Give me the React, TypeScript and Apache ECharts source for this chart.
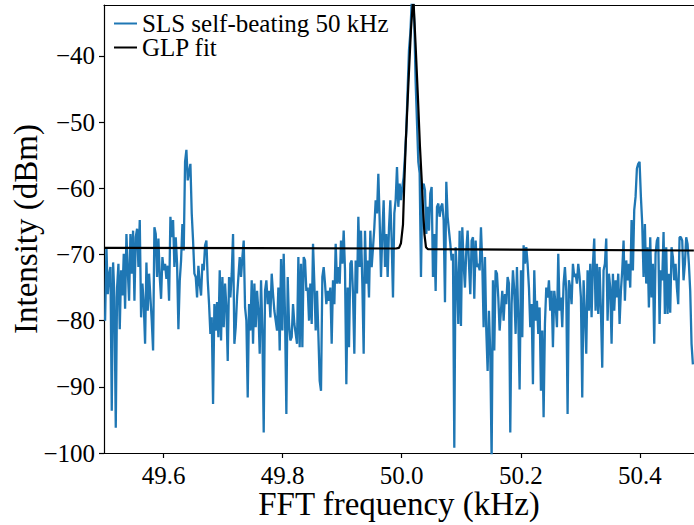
import React, { useEffect, useRef } from "react";
import * as echarts from "echarts";

// FFT bin grid (kHz)
const FREQ_START = 49.50185;
const FREQ_STEP = 0.0022387;

// SLS self-beating spectrum (dBm), one value per FFT bin
const slsIntensity: number[] = [
  -80, -68.9, -76, -73, -71.9, -93.6, -71.2, -76.5, -96.2, -75, -71.4, -81.3, -72.4, -76.2, -69.9, -78.2, -66.9, -72.4, -77, -66.9,
  -72.9, -66.4, -77, -67.4, -66.1, -71.9, -64.8, -79.5, -74.4, -77.5, -83.5, -71.2, -78.5, -72.9, -76.5, -80, -84.5, -65.9, -66.9, -73.4,
  -67.6, -73.4, -76.7, -70.4, -72.4, -71.4, -73.7, -71.7, -77, -64.3, -67.4, -64.8, -71.9, -67.4, -71.4, -81.3, -74, -70.9, -65.4, -69.4,
  -56, -54.2, -58.8, -57.5, -56.3, -63.8, -67.9, -72.9, -73.4, -76.5, -71.7, -74.4, -76.2, -71.4, -72.4, -68.6, -67.9, -73.9, -77.5, -82,
  -79.5, -92.6, -77.5, -81.5, -77.2, -82.5, -72.4, -83, -73.4, -81, -74.4, -78, -86.1, -73.4, -76.5, -72.9, -66.9, -83.5, -81, -76.5,
  -73.4, -70.4, -73.4, -70.4, -67.9, -78, -80, -91.6, -77.5, -81.5, -73.9, -83.5, -74.4, -81, -75.5, -78.5, -85, -73.9, -81.5, -96.9,
  -75.5, -73.9, -77.5, -75.5, -79.5, -72.9, -76, -78.5, -80, -81.5, -75, -84.5, -70.7, -81.5, -69.9, -79.5, -94.1, -73.4, -80.5, -83,
  -82.5, -77.5, -80.5, -82, -83.5, -70.4, -84, -71.4, -84, -70.4, -70.9, -75.5, -75, -80, -74.4, -80.5, -68.4, -74.4, -81.5, -75.5,
  -82, -89.1, -90.6, -73.4, -71.9, -74.4, -77.5, -75.5, -77, -75, -83.5, -73.9, -77.5, -68.4, -74.4, -71.9, -74.4, -67.9, -71.4, -66.4,
  -72.4, -89.6, -75, -84, -71.4, -70.9, -76, -85, -70.9, -75.9, -64.3, -71.9, -66.4, -74.4, -85, -66.4, -74.4, -70.9, -76.5, -66.4,
  -71.9, -69, -65.9, -61.8, -63.8, -57.8, -64.8, -73.4, -66.9, -61.8, -71.9, -66.9, -73.4, -66, -61.8, -67.9, -76.5, -63.8, -61.8, -56.8,
  -62.8, -59.3, -61.8, -59.8, -58.3, -55, -51.2, -45, -39.1, -36.6, -32, -30.5, -35, -44, -50, -56, -57.7, -73.4, -60, -59.3,
  -60.3, -66.9, -62.8, -66.4, -60.8, -59.8, -73.4, -66.9, -75.5, -62.8, -62.3, -64.3, -62.8, -62.3, -64.8, -77.2, -59, -64.3, -66.4, -68.4,
  -70.9, -69.9, -99.2, -68.9, -73.4, -80.5, -66.4, -80.8, -65.9, -71.4, -75, -69.4, -66.4, -71.4, -76, -67.9, -67.4, -76.7, -67.9, -71.9,
  -71.4, -72.4, -65.9, -71.4, -81, -70.4, -81.5, -87.6, -78.5, -85, -101, -73.9, -84.5, -72.4, -72.9, -76.5, -81.5, -78.5, -75.5, -80,
  -76, -77.5, -73.4, -74.4, -96.9, -77.5, -72.4, -75.5, -82, -71.9, -79.5, -90.4, -72.4, -82.5, -68.6, -71.4, -68.9, -71.4, -75, -81,
  -77.5, -89.6, -72.4, -80, -77, -82, -78, -90.6, -81.5, -94.6, -80.5, -75, -76.5, -73.9, -78.5, -75.5, -84, -75.5, -77.5, -81,
  -69.9, -78.5, -76.5, -81, -74.4, -71.9, -75.5, -94.1, -73.9, -75, -77.5, -71.4, -73.4, -72.9, -74.4, -71.4, -73.4, -76.5, -91.6, -73.9,
  -79, -85, -72.4, -78.5, -71.4, -79.5, -71.4, -67.6, -78.5, -71.4, -79, -71.9, -78.5, -87.1, -72.4, -71.4, -67.6, -80, -72.9, -75,
  -83.5, -72.9, -78.5, -73.9, -76.5, -72.9, -80.5, -75.5, -72.4, -67.9, -77, -70.9, -73.9, -71.4, -75, -64.8, -72.4, -63.3, -61.3, -57,
  -56.3, -56, -61.3, -65.4, -73.4, -65.4, -74.4, -68.9, -78, -67.4, -76.5, -71.4, -83.5, -69.9, -67.9, -67.4, -80.5, -72.4, -73.9, -66.6,
  -79, -68.9, -79, -72.9, -78.8, -68.9, -70.4, -73.9, -71.4, -75, -77.5, -67.4, -67.4, -67.9, -73.9, -71.4, -67.4, -68.4, -71.4, -75.5,
  -83.5, -86.6,
];

// GLP fit (kHz, dBm)
const fitFreq: number[] = [49.5, 49.9904, 49.9955, 49.9988, 50.0022, 50.0041, 50.0069, 50.0111, 50.0156, 50.0195, 50.0232, 50.0274, 50.0307, 50.0335, 50.0363, 50.0383, 50.0408, 50.0442, 50.4908];
const fitIntensity: number[] = [-69.0, -69.1, -69.0, -68.3, -65.5, -60.0, -53.0, -44.6, -36.0, -31.0, -38.0, -46.5, -53.7, -58.5, -63.8, -67.0, -68.9, -69.2, -69.4];

const seriesNames = ["SLS self-beating 50 kHz", "GLP fit"];
const xTicks = [49.6, 49.8, 50.0, 50.2, 50.4];
const yTicks = [-100, -90, -80, -70, -60, -50, -40];

const X_MIN = 49.5;
const X_MAX = 50.491;
const Y_MIN = -100;
const Y_MAX = -32.3;

const FONT = "Liberation Serif";
const TICK_FONT = "25px \"Liberation Serif\", serif";

export default function App() {
  const ref = useRef<HTMLDivElement>(null);
  useEffect(() => {
    document.body.style.margin = "0";
    if (!ref.current) return;
    const chart = echarts.init(ref.current, undefined, { renderer: "svg" });
    const slsData = slsIntensity.map((v, i) => [FREQ_START + i * FREQ_STEP, v]);
    const fitData = fitFreq.map((f, i) => [f, fitIntensity[i]]);
    const legendBase = {
      orient: "vertical",
      left: 114,
      padding: 0,
      itemWidth: 23,
      itemHeight: 2,
      icon: "rect",
      textStyle: { fontFamily: FONT, fontSize: 25, color: "#000", lineHeight: 22 },
    };
    chart.setOption({
      animation: false,
      backgroundColor: "#ffffff",
      textStyle: { fontFamily: FONT },
      grid: { left: 104, right: 0, top: 5, bottom: 72, containLabel: false, outerBoundsMode: "none" },
      legend: [
        { ...legendBase, top: 11, data: [seriesNames[0]] },
        { ...legendBase, top: 35, data: [seriesNames[1]] },
      ],
      xAxis: [
        {
          type: "value",
          min: X_MIN,
          max: X_MAX,
          position: "bottom",
          name: "FFT frequency (kHz)",
          nameLocation: "middle",
          nameGap: 38,
          nameMoveOverlap: false,
          nameTextStyle: { fontFamily: FONT, fontSize: 33, color: "#000", lineHeight: 26 },
          axisLine: { show: true, onZero: false, lineStyle: { color: "#000", width: 1.2 } },
          axisTick: { show: true, inside: false, length: 5, customValues: xTicks, lineStyle: { color: "#000", width: 1.2 } },
          axisLabel: { show: false },
          splitLine: { show: false },
        },
        {
          type: "value",
          min: X_MIN,
          max: X_MAX,
          position: "top",
          axisLine: { show: true, onZero: false, lineStyle: { color: "#000", width: 1.2 } },
          axisTick: { show: false },
          axisLabel: { show: false },
          splitLine: { show: false },
        },
      ],
      yAxis: {
        type: "value",
        min: Y_MIN,
        max: Y_MAX,
        name: "Intensity (dBm)",
        nameLocation: "middle",
        nameRotate: 90,
        nameGap: 62,
        nameMoveOverlap: false,
        nameTextStyle: { fontFamily: FONT, fontSize: 33, color: "#000" },
        axisLine: { show: true, onZero: false, lineStyle: { color: "#000", width: 1.2 } },
        axisTick: { show: true, inside: false, length: 5, customValues: yTicks, lineStyle: { color: "#000", width: 1.2 } },
        axisLabel: { show: false },
        splitLine: { show: false },
      },
      series: [
        {
          name: seriesNames[0],
          type: "line",
          data: slsData,
          showSymbol: false,
          symbol: "none",
          clip: true,
          color: "#1f77b4",
          lineStyle: { color: "#1f77b4", width: 2.3 },
        },
        {
          name: seriesNames[1],
          type: "line",
          data: fitData,
          showSymbol: false,
          symbol: "none",
          clip: true,
          color: "#000",
          lineStyle: { color: "#000", width: 2.2 },
        },
      ],
    });

    // Tick labels placed through the axes' own scales
    const axisBottom = chart.convertToPixel({ yAxisIndex: 0 }, Y_MIN) as number;
    const axisLeft = chart.convertToPixel({ xAxisIndex: 0 }, X_MIN) as number;
    const labels: any[] = [];
    xTicks.forEach((t) => {
      labels.push({
        type: "text",
        x: chart.convertToPixel({ xAxisIndex: 0 }, t) as number,
        y: axisBottom + 22,
        style: { text: t.toFixed(1), font: TICK_FONT, fill: "#000", lineHeight: 20, align: "center", verticalAlign: "middle" },
      });
    });
    yTicks.forEach((t) => {
      labels.push({
        type: "text",
        x: axisLeft - 9,
        y: chart.convertToPixel({ yAxisIndex: 0 }, t) as number,
        style: { text: String(t).replace("-", "\u2212"), font: TICK_FONT, fill: "#000", lineHeight: 20, align: "right", verticalAlign: "middle" },
      });
    });
    chart.setOption({ graphic: labels });
    return () => chart.dispose();
  }, []);
  return <div ref={ref} style={{ width: 694, height: 525 }} />;
}
